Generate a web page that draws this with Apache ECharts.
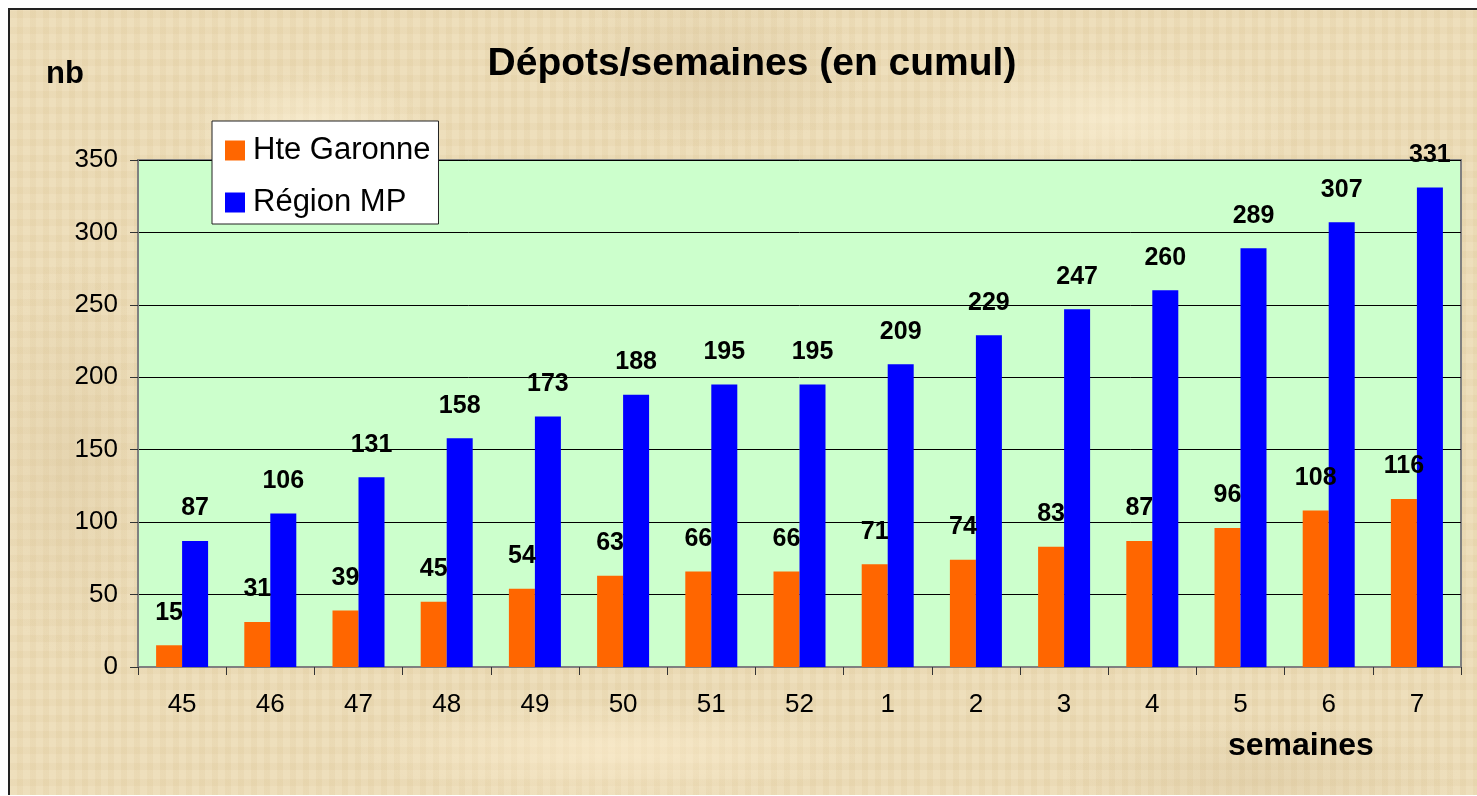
<!DOCTYPE html>
<html>
<head>
<meta charset="utf-8">
<title>Dépots/semaines (en cumul)</title>
<script src="https://cdn.jsdelivr.net/npm/echarts@6/dist/echarts.min.js"></script>
<style>
  html, body { margin: 0; padding: 0; background: #fff; overflow: hidden; }
  /* fond "parchemin" du graphique Excel */
  .frame {
    position: absolute; left: 8px; top: 8px; width: 1500px; height: 785px;
    border-left: 2px solid #222; border-top: 2px solid #222;
    background-color: #ecdbb4;
    background-image:
      radial-gradient(ellipse 120px 60px at 300px 120px, rgba(255,245,220,0.55), rgba(255,245,220,0)),
      radial-gradient(ellipse 160px 80px at 700px 60px, rgba(210,190,150,0.35), rgba(210,190,150,0)),
      radial-gradient(ellipse 200px 70px at 1100px 110px, rgba(255,245,220,0.5), rgba(255,245,220,0)),
      radial-gradient(ellipse 90px 200px at 60px 450px, rgba(215,195,155,0.35), rgba(215,195,155,0)),
      radial-gradient(ellipse 260px 50px at 600px 740px, rgba(255,240,210,0.55), rgba(255,240,210,0)),
      radial-gradient(ellipse 200px 60px at 1250px 770px, rgba(210,190,150,0.3), rgba(210,190,150,0)),
      repeating-linear-gradient(90deg, rgba(255,255,255,0.06) 0 7px, rgba(190,165,120,0.06) 7px 13px),
      repeating-linear-gradient(0deg, rgba(255,255,255,0.05) 0 9px, rgba(190,165,120,0.05) 9px 16px);
  }
  #chart { position: absolute; left: 0; top: 0; width: 1477px; height: 796px; }
</style>
</head>
<body>
<div class="frame"></div>
<div id="chart"></div>
<script>
const semaines = ['45', '46', '47', '48', '49', '50', '51', '52', '1', '2', '3', '4', '5', '6', '7']
const hteGaronne = [15, 31, 39, 45, 54, 63, 66, 66, 71, 74, 83, 87, 96, 108, 116]
const regionMP = [87, 106, 131, 158, 173, 188, 195, 195, 209, 229, 247, 260, 289, 307, 331]

const font = 'Arial, "Liberation Sans", sans-serif'
const chart = echarts.init(document.getElementById('chart'))

const labelStyle = {
  show: true,
  position: 'top',
  distance: 20,
  color: '#000',
  fontFamily: font,
  fontSize: 25,
  fontWeight: 'bold'
}

chart.setOption({
  animation: false,
  backgroundColor: 'transparent',
  title: [
    {
      text: 'Dépots/semaines (en cumul)',
      left: 752, top: 45, textAlign: 'center', padding: 0,
      textStyle: { fontFamily: font, fontSize: 39, fontWeight: 'bold', color: '#000', lineHeight: 39 }
    },
    {
      text: 'nb',
      left: 46, top: 59, padding: 0,
      textStyle: { fontFamily: font, fontSize: 31, fontWeight: 'bold', color: '#000', lineHeight: 31 }
    },
    {
      text: 'semaines',
      left: 1228, top: 730, padding: 0,
      textStyle: { fontFamily: font, fontSize: 32, fontWeight: 'bold', color: '#000', lineHeight: 32 }
    }
  ],
  legend: {
    orient: 'vertical',
    left: 212, top: 121,
    padding: [14, 8, 6, 13],
    itemWidth: 20, itemHeight: 20, itemGap: 21,
    icon: 'rect',
    backgroundColor: '#fff',
    borderColor: '#222',
    borderWidth: 1,
    textStyle: { fontFamily: font, fontSize: 31, color: '#000', lineHeight: 30, padding: [0, 0, 0, 3] },
    data: ['Hte Garonne', 'Région MP']
  },
  grid: {
    left: 138, top: 160, right: 16, bottom: 129,
    show: true,
    backgroundColor: '#ccffcc',
    borderColor: '#808080',
    borderWidth: 2
  },
  xAxis: {
    type: 'category',
    data: semaines,
    axisLine: { lineStyle: { color: '#808080', width: 2 } },
    axisTick: { show: true, length: 8, lineStyle: { color: '#333' } },
    axisLabel: { margin: 25, color: '#000', fontFamily: font, fontSize: 26 }
  },
  yAxis: {
    type: 'value',
    min: 0, max: 350, interval: 50,
    axisLine: { show: true, lineStyle: { color: '#808080', width: 2 } },
    axisTick: { show: true, length: 8, lineStyle: { color: '#333' } },
    axisLabel: { margin: 20, color: '#000', fontFamily: font, fontSize: 26 },
    splitLine: { lineStyle: { color: '#000', width: 1 } }
  },
  series: [
    {
      name: 'Hte Garonne',
      type: 'bar',
      data: hteGaronne,
      barWidth: 26,
      barGap: '0%',
      itemStyle: { color: '#ff6600' },
      label: labelStyle
    },
    {
      name: 'Région MP',
      type: 'bar',
      data: regionMP,
      barWidth: 26,
      itemStyle: { color: '#0000ff' },
      label: labelStyle
    }
  ]
})
</script>
</body>
</html>
